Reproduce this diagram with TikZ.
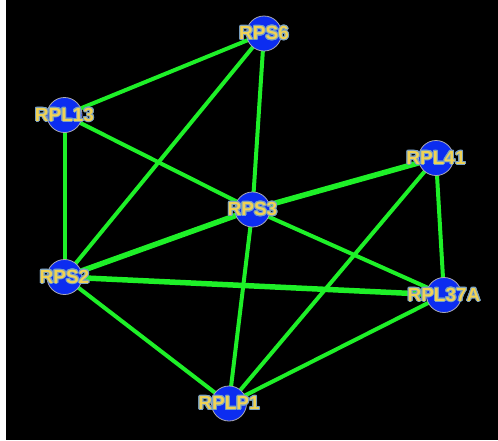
\documentclass[tikz,border=0pt]{standalone}
\usepackage{fontspec}
\setmainfont{Liberation Sans}
\usepackage{contour}
\contourlength{1.0pt}
\contournumber{16}
\definecolor{bg}{RGB}{0,0,0}
\definecolor{edgegreen}{RGB}{30,240,40}
\definecolor{nodeblue}{RGB}{12,45,240}
\definecolor{ringgray}{RGB}{170,170,180}
\definecolor{labyellow}{RGB}{240,210,85}
\definecolor{laboutline}{RGB}{120,160,195}
\pgfdeclarelayer{backfill}
\pgfdeclarelayer{edgelayer}
\pgfsetlayers{backfill,edgelayer,main}
\newcommand{\glab}[1]{\contour{laboutline}{#1}}
\tikzset{
  gene/.style={circle, fill=nodeblue, draw=ringgray, line width=0.8pt, minimum size=35pt, inner sep=0pt,
    label={[genelabel]center:\glab{#1}}},
  genelabel/.style={font=\bfseries\fontsize{19}{21}\selectfont, text=labyellow, inner sep=0pt},
  link/.style={draw=edgegreen, line width=4pt},
  thicklink/.style={draw=edgegreen, line width=5.5pt},
}
\begin{document}
\begin{tikzpicture}[x=1pt,y=-1pt]
\useasboundingbox (0,0) rectangle (498,440);
\begin{pgfonlayer}{backfill}
\fill[white] (0,0) rectangle (498,440);
\fill[bg] (6,0) rectangle (498,439.5);
\end{pgfonlayer}
\node[gene=RPS6] (RPS6) at (264,33.5) {};
\node[gene=RPL13] (RPL13) at (64.5,115) {};
\node[gene=RPL41] (RPL41) at (436,158) {};
\node[gene=RPS3] (RPS3) at (252.5,209.5) {};
\node[gene=RPS2] (RPS2) at (64.5,277) {};
\node[gene=RPL37A] (RPL37A) at (444,295) {};
\node[gene=RPLP1] (RPLP1) at (229,403.5) {};
\begin{pgfonlayer}{edgelayer}
\draw[link] (RPS6.center) -- (RPL13.center);
\draw[link] (RPS6.center) -- (RPS2.center);
\draw[link] (RPS6.center) -- (RPS3.center);
\draw[link] (RPL13.center) -- (RPS3.center);
\draw[link] (RPL13.center) -- (RPS2.center);
\draw[thicklink] (RPS3.center) -- (RPL41.center);
\draw[thicklink] (RPS3.center) -- (RPS2.center);
\draw[link] (RPS3.center) -- (RPL37A.center);
\draw[link] (RPS3.center) -- (RPLP1.center);
\draw[link] (RPL41.center) -- (RPLP1.center);
\draw[link] (RPL41.center) -- (RPL37A.center);
\draw[thicklink] (RPS2.center) -- (RPL37A.center);
\draw[link] (RPS2.center) -- (RPLP1.center);
\draw[link] (RPL37A.center) -- (RPLP1.center);
\end{pgfonlayer}
\end{tikzpicture}
\end{document}
